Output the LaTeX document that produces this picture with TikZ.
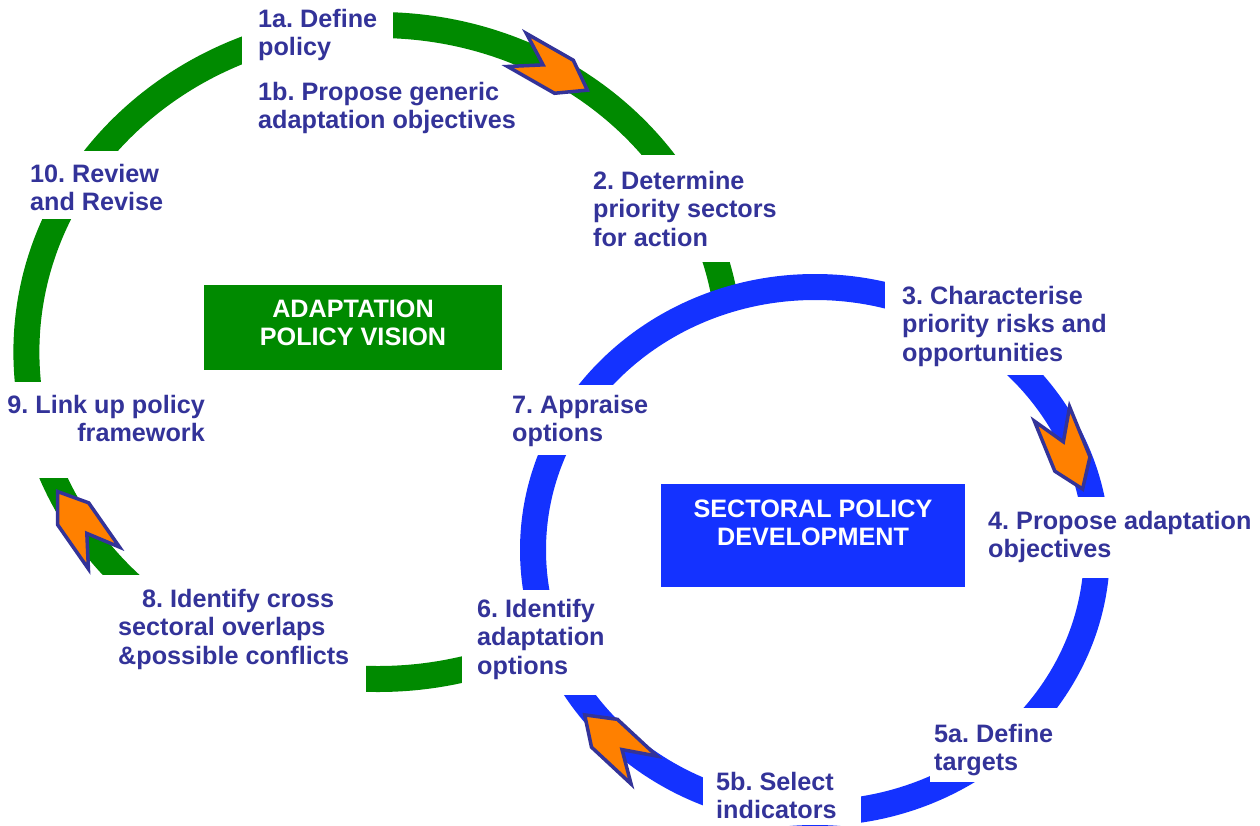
\documentclass[tikz,border=0pt]{standalone}
\usepackage{fontspec}
\setmainfont{Liberation Sans}
\definecolor{ringgreen}{RGB}{0,138,0}
\definecolor{ringblue}{RGB}{20,50,255}
\definecolor{txt}{RGB}{51,51,153}
\definecolor{arroworange}{RGB}{255,128,0}
\tikzset{
  greenring/.style={draw=ringgreen, line width=26pt},
  bluering/.style={draw=ringblue, fill=white, line width=26pt},
  gapmask/.style={fill=white},
  chevronshape/.style={fill=arroworange, draw=txt, line width=3.5pt, line join=miter},
  lbl/.style={anchor=north west, inner sep=0pt, align=left, text=txt,
    font=\fontsize{25.2}{28.5}\selectfont\bfseries\frenchspacing},
  titlebox/.style={anchor=north, inner xsep=0pt, align=center, text=white,
    font=\fontsize{25.2}{28.5}\selectfont\bfseries\frenchspacing}
}
\newcommand\chevronarrow[3]{%
  \begin{scope}[shift={(#1,#2)},rotate=#3]
    \draw[chevronshape] (0,19) -- (54,19) -- (81,0) -- (54,-19) -- (0,-19) -- (30,0) -- cycle;
  \end{scope}}
\begin{document}
\begin{tikzpicture}[x=1pt,y=-1pt]
\useasboundingbox[fill=white] (0,0) rectangle (1260,825);
% rings
\draw[greenring] (378,352) ellipse [x radius=351.6, y radius=327];
\draw[bluering] (815,550) ellipse [x radius=282, y radius=263];
% gaps where the labels sit
\fill[gapmask] (242,0) rectangle (393,70);
\fill[gapmask] (0,151) rectangle (175,219);
\fill[gapmask] (0,382) rectangle (215,478);
\fill[gapmask] (100,575) rectangle (366,700);
\fill[gapmask] (462,590) rectangle (615,695);
\fill[gapmask] (585,155) rectangle (790,262);
\fill[gapmask] (885,265) rectangle (1115,375);
\fill[gapmask] (980,497) rectangle (1260,578);
\fill[gapmask] (930,708) rectangle (1260,782);
\fill[gapmask] (703,760) rectangle (861,825);
\fill[gapmask] (500,385) rectangle (655,455);
% orange chevrons
\chevronarrow{517}{50}{-29.7}
\chevronarrow{1052}{414}{-67.8}
\chevronarrow{104}{558}{124.9}
\chevronarrow{644}{770}{137.1}
% title boxes
\node[titlebox, fill=ringgreen, minimum width=298, inner ysep=12pt] (vision) at (353,285)
  {\strut ADAPTATION\\POLICY VISION\rule[-12pt]{0pt}{12pt}};
\node[titlebox, fill=ringblue, minimum width=304, inner ysep=13pt] (sectoral) at (813,484)
  {\strut SECTORAL POLICY\\DEVELOPMENT\rule[-28.5pt]{0pt}{28.5pt}};
% labels
\node[lbl] (s1a) at (258,7) {\strut 1a. Define\\policy};
\node[lbl] (s1b) at (258,80) {\strut 1b. Propose generic\\adaptation objectives};
\node[lbl] (s10) at (30,162) {\strut 10. Review\\and Revise};
\node[lbl] (s2) at (593,169) {\strut 2. Determine\\priority sectors\\for action};
\node[lbl] (s3) at (902,284) {\strut 3. Characterise\\priority risks and\\opportunities};
\node[lbl] (s7) at (512,393) {\strut 7. Appraise\\options};
\node[lbl, anchor=north east, align=right] (s9) at (205,393) {\strut 9. Link up policy\\framework};
\node[lbl] (s4) at (988,509) {\strut 4. Propose adaptation\\objectives};
\node[lbl] (s8) at (118,587) {\strut\hspace*{24pt}8. Identify cross\\sectoral overlaps\\\&possible conflicts};
\node[lbl] (s6) at (477,597) {\strut 6. Identify\\adaptation\\options};
\node[lbl] (s5a) at (934,722) {\strut 5a. Define\\targets};
\node[lbl] (s5b) at (716,770) {\strut 5b. Select\\indicators};
\end{tikzpicture}
\end{document}
